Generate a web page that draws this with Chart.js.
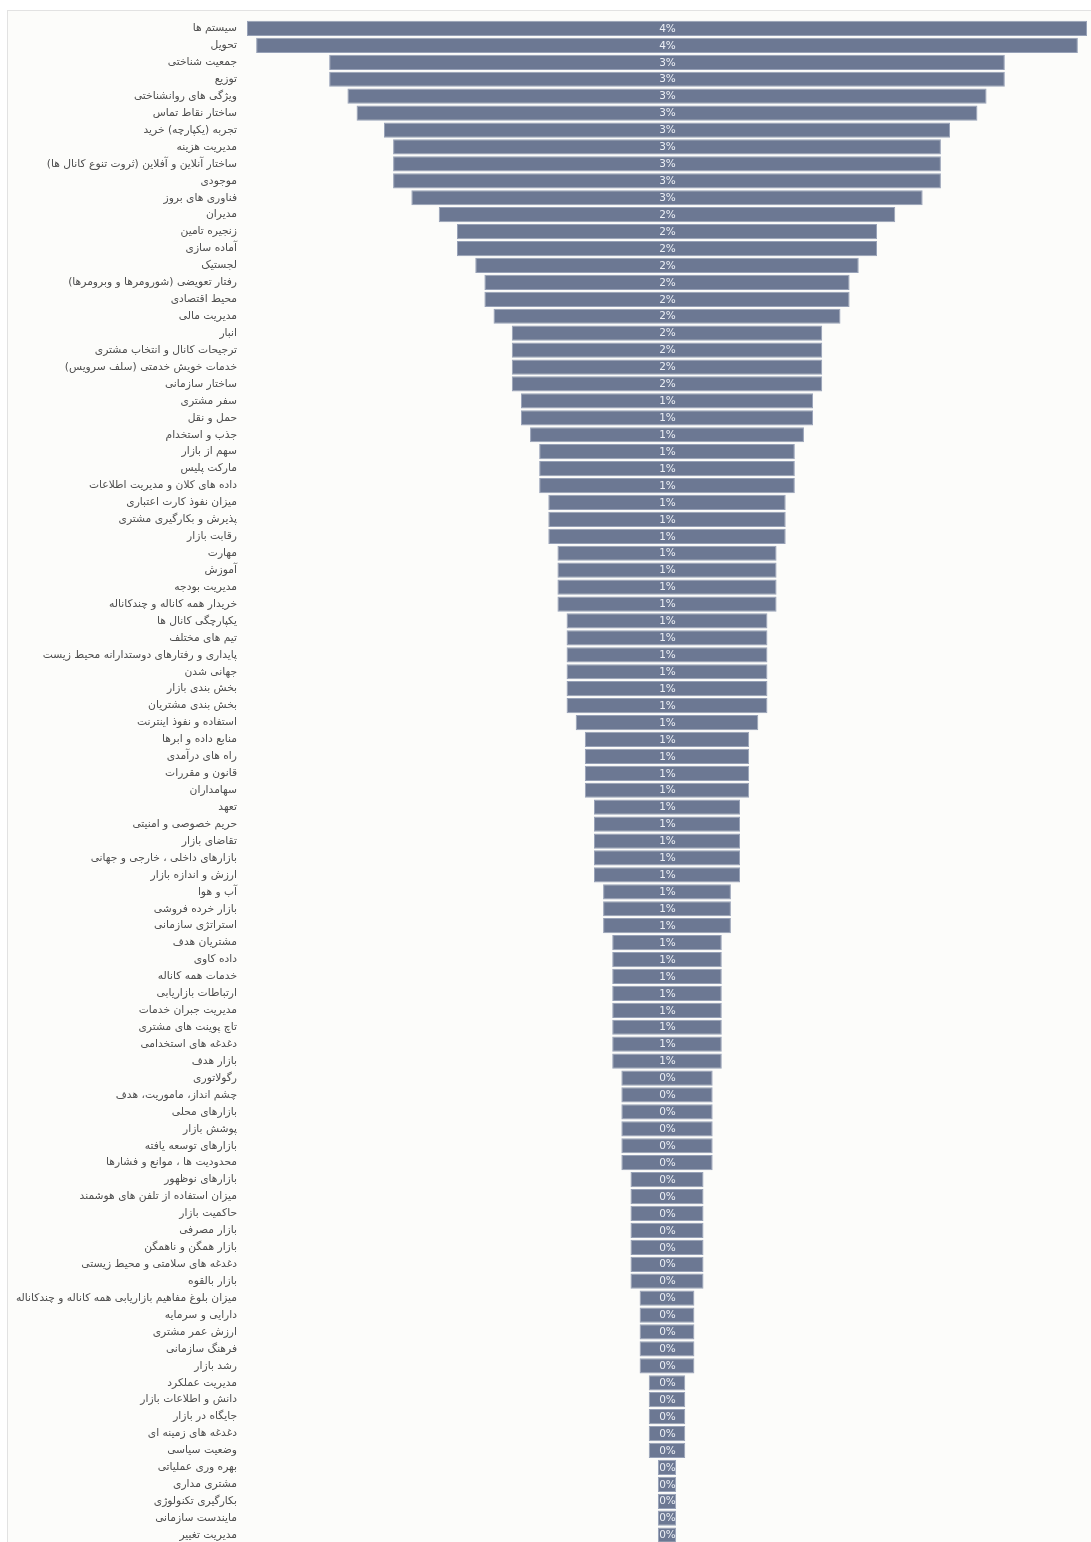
<!DOCTYPE html>
<html>
<head>
<meta charset="utf-8">
<script src="https://cdn.jsdelivr.net/npm/chart.js@4"></script>
<style>
  html, body { margin: 0; padding: 0; background: #ffffff; overflow: hidden; }
  #frame { position: absolute; left: 7px; top: 10px; width: 1084px; height: 1532px;
           border-top: 1px solid #e2e2e2; border-left: 1px solid #e2e2e2; background: #fcfcfa; }
  #wrap { position: absolute; left: 0; top: 0; width: 1091px; height: 1560px; }
  canvas { direction: rtl; }
</style>
</head>
<body>
<div id="frame"></div>
<div id="wrap"><canvas id="c" dir="rtl"></canvas></div>
<script>
const categories = [
  "سیستم ها", "تحویل", "جمعیت شناختی", "توزیع", "ویژگی های روانشناختی",
  "ساختار نقاط تماس", "تجربه (یکپارچه) خرید", "مدیریت هزینه",
  "ساختار آنلاین و آفلاین (ثروت تنوع کانال ها)", "موجودی", "فناوری های بروز",
  "مدیران", "زنجیره تامین", "آماده سازی", "لجستیک",
  "رفتار تعویضی (شورومرها و وبرومرها)", "محیط اقتصادی", "مدیریت مالی", "انبار",
  "ترجیحات کانال و انتخاب مشتری", "خدمات خویش خدمتی (سلف سرویس)", "ساختار سازمانی",
  "سفر مشتری", "حمل و نقل", "جذب و استخدام", "سهم از بازار", "مارکت پلیس",
  "داده های کلان و مدیریت اطلاعات", "میزان نفوذ کارت اعتباری", "پذیرش و بکارگیری مشتری",
  "رقابت بازار", "مهارت", "آموزش", "مدیریت بودجه", "خریدار همه کاناله و چندکاناله",
  "یکپارچگی کانال ها", "تیم های مختلف", "پایداری و رفتارهای دوستدارانه محیط زیست",
  "جهانی شدن", "بخش بندی بازار", "بخش بندی مشتریان", "استفاده و نفوذ اینترنت",
  "منابع داده و ابرها", "راه های درآمدی", "قانون و مقررات", "سهامداران", "تعهد",
  "حریم خصوصی و امنیتی", "تقاضای بازار", "بازارهای داخلی ، خارجی و جهانی",
  "ارزش و اندازه بازار", "آب و هوا", "بازار خرده فروشی", "استراتژی سازمانی",
  "مشتریان هدف", "داده کاوی", "خدمات همه کاناله", "ارتباطات بازاریابی",
  "مدیریت جبران خدمات", "تاچ پوینت های مشتری", "دغدغه های استخدامی", "بازار هدف",
  "رگولاتوری", "چشم انداز، ماموریت، هدف", "بازارهای محلی", "پوشش بازار",
  "بازارهای توسعه یافته", "محدودیت ها ، موانع و فشارها", "بازارهای نوظهور",
  "میزان استفاده از تلفن های هوشمند", "حاکمیت بازار", "بازار مصرفی",
  "بازار همگن و ناهمگن", "دغدغه های سلامتی و محیط زیستی", "بازار بالقوه",
  "میزان بلوغ مفاهیم بازاریابی همه کاناله و چندکاناله", "دارایی و سرمایه",
  "ارزش عمر مشتری", "فرهنگ سازمانی", "رشد بازار", "مدیریت عملکرد",
  "دانش و اطلاعات بازار", "جایگاه در بازار", "دغدغه های زمینه ای", "وضعیت سیاسی",
  "بهره وری عملیاتی", "مشتری مداری", "بکارگیری تکنولوژی", "مایندست سازمانی",
  "مدیریت تغییر"
];

const counts = [
  46, 45, 37, 37, 35, 34, 31, 30, 30, 30, 28, 25, 23, 23, 21, 20, 20, 19,
  17, 17, 17, 17, 16, 16, 15, 14, 14, 14, 13, 13, 13, 12, 12, 12, 12,
  11, 11, 11, 11, 11, 11, 10, 9, 9, 9, 9, 8, 8, 8, 8, 8, 7, 7, 7,
  6, 6, 6, 6, 6, 6, 6, 6, 5, 5, 5, 5, 5, 5, 4, 4, 4, 4, 4, 4, 4,
  3, 3, 3, 3, 3, 2, 2, 2, 2, 2, 1, 1, 1, 1, 1
];

const percentLabels = [
  "4%","4%","3%","3%","3%","3%","3%","3%","3%","3%","3%","2%","2%","2%","2%","2%","2%","2%",
  "2%","2%","2%","2%","1%","1%","1%","1%","1%","1%","1%","1%","1%","1%","1%","1%","1%",
  "1%","1%","1%","1%","1%","1%","1%","1%","1%","1%","1%","1%","1%","1%","1%","1%","1%","1%","1%",
  "1%","1%","1%","1%","1%","1%","1%","1%","0%","0%","0%","0%","0%","0%","0%","0%","0%","0%","0%","0%","0%",
  "0%","0%","0%","0%","0%","0%","0%","0%","0%","0%","0%","0%","0%","0%","0%"
];

const floating = counts.map(v => [-v / 2, v / 2]);

const centerLabels = {
  id: 'centerLabels',
  afterDatasetsDraw(chart) {
    const ctx = chart.ctx;
    const meta = chart.getDatasetMeta(0);
    const xs = chart.scales.x;
    ctx.save();
    ctx.direction = 'ltr';
    ctx.font = '10.5px "DejaVu Sans"';
    ctx.fillStyle = '#edf0f6';
    ctx.textAlign = 'center';
    ctx.textBaseline = 'middle';
    meta.data.forEach((bar, i) => {
      ctx.fillText(percentLabels[i], xs.getPixelForValue(0) + 0.5, bar.y + 0.5);
    });
    ctx.restore();
  }
};

new Chart(document.getElementById('c'), {
  type: 'bar',
  data: {
    labels: categories,
    datasets: [{
      data: floating,
      backgroundColor: '#6c7893',
      borderColor: '#97a1b7',
      borderWidth: 1,
      borderSkipped: false,
      barPercentage: 1,
      categoryPercentage: 0.9
    }]
  },
  options: {
    indexAxis: 'y',
    responsive: true,
    maintainAspectRatio: false,
    animation: false,
    layout: { padding: { top: 20, bottom: 1, right: 4, left: 0 } },
    plugins: { legend: { display: false }, tooltip: { enabled: false } },
    scales: {
      x: { display: false, min: -23, max: 23 },
      y: {
        grid: { display: false, drawTicks: false },
        border: { display: false },
        afterFit(scale) { scale.width = 247; },
        ticks: {
          autoSkip: false,
          padding: 10,
          color: '#4e4e4e',
          font: { family: '"DejaVu Sans"', size: 10.7 }
        }
      }
    }
  },
  plugins: [centerLabels]
});
</script>
</body>
</html>
